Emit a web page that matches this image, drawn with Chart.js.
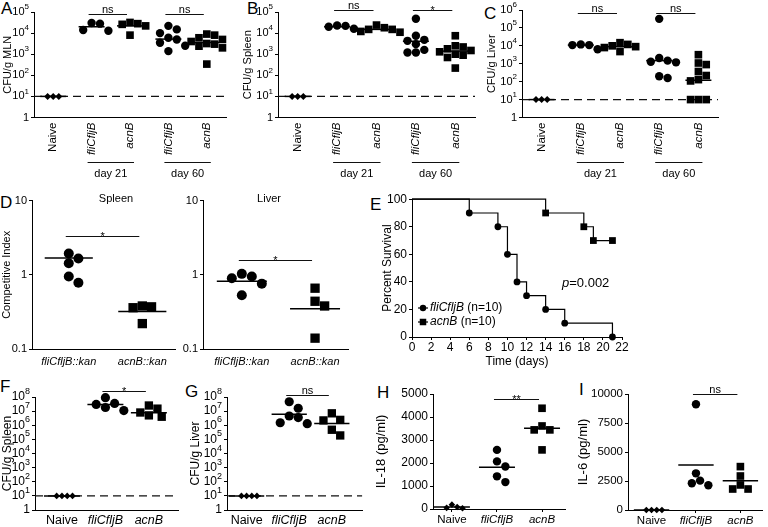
<!DOCTYPE html>
<html>
<head>
<meta charset="utf-8">
<script src="https://cdn.jsdelivr.net/npm/chart.js@4.4.1/dist/chart.umd.min.js"></script>
<style>
  body { margin: 0; width: 768px; height: 527px; position: relative; overflow: hidden; background: #fff;
         font-family: "Liberation Sans", Arial, sans-serif; color: #000; }
  canvas { position: absolute; }
  .letter { position: absolute; font-size: 17px; line-height: 17px; color: #000; }
</style>
</head>
<body>
<div class="letter" style="left:1px;top:0px">A</div>
<div class="letter" style="left:247px;top:0px">B</div>
<div class="letter" style="left:484px;top:5px">C</div>
<div class="letter" style="left:0px;top:194px">D</div>
<div class="letter" style="left:370px;top:196px">E</div>
<div class="letter" style="left:0px;top:378px">F</div>
<div class="letter" style="left:185px;top:383px">G</div>
<div class="letter" style="left:377px;top:384px">H</div>
<div class="letter" style="left:579px;top:381px">I</div>
<script>
const FONT = '"Liberation Sans", Arial, sans-serif';
Chart.defaults.font.family = FONT;
Chart.defaults.font.size = 11;
Chart.defaults.color = '#000';

// ---------- data ----------
const catsDays = ['Naive', 'fliCfljB', 'acnB', 'fliCfljB', 'acnB'];
const catsThree = ['Naive', 'fliCfljB', 'acnB'];
const catsKan = ['fliCfljB::kan', 'acnB::kan'];
const dayBrackets = [[2, 3, 'day 21'], [4, 5, 'day 60']];

const logTicks5 = [1, 10, 100, 1000, 10000, 100000];
const logTicks6 = [1, 10, 100, 1000, 10000, 100000, 1000000];
const logTicks8 = [1, 10, 100, 1000, 10000, 100000, 1000000, 10000000, 100000000];
const ciTicks = [0.1, 1, 10];

// A: MLN
const mlnNaive = [10, 10, 10];
const mlnFliD21 = [3.0e4, 2.8e4, 1.4e4, 1.3e4];
const mlnAcnD21 = [3.2e4, 2.8e4, 2.6e4, 2.2e4, 8e3];
const mlnFliD60 = [2.2e4, 1.5e4, 1.0e4, 6e3, 5e3, 3.5e3, 2.5e3, 1.4e3];
const mlnAcnD60 = [9e3, 8e3, 6e3, 5e3, 4e3, 3.2e3, 3e3, 2.4e3, 2e3, 3.4e2];
const mlnMid = [10, 2.0e4, 2.2e4, 5.2e3, 3.6e3];
const mlnSig = [[2, 3, 'ns'], [4, 5, 'ns']];

// B: spleen
const splNaive = [10, 10, 10];
const splFliD21 = [2.3e4, 2.0e4, 1.6e4, 2.2e4];
const splAcnD21 = [2.4e4, 1.8e4, 1.5e4, 1.5e4, 1.2e4, 1.1e4];
const splFliD60 = [4.8e4, 7.5e3, 4.8e3, 4.3e3, 3.0e3, 1.6e3, 1.2e3, 1.2e3];
const splAcnD60 = [7.5e3, 2.5e3, 2.2e3, 1.8e3, 1.5e3, 1.3e3, 1.0e3, 9e2, 7e2, 2.2e2];
const splMid = [10, 2.0e4, 1.5e4, 4.1e3, 1.4e3];
const splSig = [[2, 3, 'ns'], [4, 5, '*']];

// C: liver
const livNaive = [10, 10, 10];
const livFliD21 = [1.2e4, 1.1e4, 1.1e4, 6.5e3];
const livAcnD21 = [1.5e4, 1.2e4, 1.0e4, 9e3, 8e3, 4.8e3];
const livFliD60 = [3.2e5, 2.1e3, 1.5e3, 1.3e3, 1.2e3, 2.0e2, 1.6e2];
const livAcnD60 = [3.2e3, 1.1e3, 9e2, 3.7e2, 2.2e2, 1.3e2, 1.1e2, 10, 10, 10];
const livMid = [10, 1.1e4, 9e3, 1.5e3, 1.2e2];
const livSig = [[2, 3, 'ns'], [4, 5, 'ns']];

// D: competitive index
const ciSpleenFli = [1.94, 1.66, 1.43, 0.95, 0.78];
const ciSpleenAcn = [0.37, 0.36, 0.38, 0.22];
const ciSpleenMid = [1.68, 0.32];
const ciLiverFli = [1.03, 0.95, 0.9, 0.76, 0.53];
const ciLiverAcn = [0.66, 0.44, 0.38, 0.14];
const ciLiverMid = [0.82, 0.35];
const ciSig = [[1, 2, '*']];

// E: survival
const survGroups = ['fliCfljB', 'acnB'];
const survN = [10, 10];
const survDaysFli = [0, 6, 9, 10, 11, 12, 14, 16, 21];
const survPctFli = [100, 90, 80, 60, 40, 30, 20, 10, 0];
const survDaysAcn = [0, 14, 18, 19, 21];
const survPctAcn = [100, 90, 80, 70, 70];
const survTicksX = [0, 2, 4, 6, 8, 10, 12, 14, 16, 18, 20, 22];
const survTicksY = [0, 20, 40, 60, 80, 100];
const survP = '0.002';

// F: spleen, G: liver (acute)
const fNaive = [10, 10, 10, 10];
const fFli = [9e7, 3.5e7, 3e7, 1.8e7, 1.1e7];
const fAcn = [2.5e7, 1.5e7, 8e6, 5e6, 4e6];
const fMid = [10, 3e7, 7.7e6];
const fSig = [[2, 3, '*']];
const gNaive = [10, 10, 10, 10];
const gFli = [4.6e7, 1.6e7, 4.5e6, 3.5e6, 1.5e6, 1.3e6];
const gAcn = [7e6, 2.4e6, 2.2e6, 4.8e5, 1.9e5];
const gMid = [10, 5.9e6, 1.35e6];
const gSig = [[2, 3, 'ns']];

// H: IL-18, I: IL-6
const il18Ticks = [0, 1000, 2000, 3000, 4000, 5000];
const il18Naive = [50, 90, 190, 30];
const il18Fli = [2570, 2070, 1850, 1420, 1170];
const il18Acn = [4380, 3610, 3440, 3440, 2570];
const il18Mid = [90, 1820, 3510];
const il18Sig = [[2, 3, '**']];
const il6Ticks = [0, 2500, 5000, 7500, 10000];
const il6Naive = [0, 0, 0, 0];
const il6Fli = [9110, 3160, 2530, 2300, 2130];
const il6Acn = [3740, 2930, 2160, 1810, 1810];
const il6Mid = [0, 3880, 2530];
const il6Sig = [[2, 3, 'ns']];

// ---------- helpers ----------
function addCanvas(box) {
  const c = document.createElement('canvas');
  c.width = box[2]; c.height = box[3];
  c.style.left = box[0] + 'px'; c.style.top = box[1] + 'px';
  c.style.width = box[2] + 'px'; c.style.height = box[3] + 'px';
  document.body.appendChild(c);
  return c;
}

// simple beeswarm: spread overlapping points sideways
function swarm(vals, yPix, diam) {
  const pts = vals.map(v => ({ v: v, y: yPix(v), dx: 0 }));
  const order = pts.slice().sort((a, b) => a.y - b.y);
  const placed = [];
  const step = diam / 2;
  order.forEach(p => {
    for (let k = 0; k < 60; k++) {
      const off = (k % 2 ? 1 : -1) * Math.ceil(k / 2) * step;
      if (placed.every(q => Math.hypot(q.dx - off, q.y - p.y) >= diam - 0.01)) { p.dx = off; break; }
    }
    placed.push(p);
  });
  return pts;
}

function annotPlugin(o) {
  return {
    id: 'annot',
    afterDraw(chart) {
      const ctx = chart.ctx, xs = chart.scales.x, ys = chart.scales.y, a = chart.chartArea;
      ctx.save();
      ctx.fillStyle = '#000';
      ctx.strokeStyle = '#111';
      ctx.lineWidth = 1.2;
      if (o.pow) {
        const fs = o.yFont || 11, es = Math.round(fs * 0.75);
        ys.ticks.forEach(tk => {
          const y = ys.getPixelForValue(tk.value);
          const x = ys.right - 5;
          ctx.textAlign = 'right';
          ctx.textBaseline = 'middle';
          if (tk.value === 1) {
            ctx.font = fs + 'px ' + FONT;
            ctx.fillText('1', x, y);
            return;
          }
          const e = String(Math.round(Math.log10(tk.value)));
          ctx.font = es + 'px ' + FONT;
          const ew = ctx.measureText(e).width;
          ctx.fillText(e, x, y - fs * 0.45);
          ctx.font = fs + 'px ' + FONT;
          ctx.fillText('10', x - ew, y);
        });
      }
      (o.sig || []).forEach(s => {
        const x1 = xs.getPixelForValue(s[0]) - 3, x2 = xs.getPixelForValue(s[1]) - 3;
        const y = Math.round(ys.getPixelForValue(o.sigLevel)) + 0.5;
        ctx.beginPath(); ctx.moveTo(x1, y); ctx.lineTo(x2, y); ctx.stroke();
        ctx.font = '11px ' + FONT;
        ctx.textAlign = 'center';
        ctx.textBaseline = 'alphabetic';
        ctx.fillText(s[2], (x1 + x2) / 2, s[2].indexOf('*') >= 0 ? y + 3 : y - 2);
      });
      (o.brackets || []).forEach(s => {
        const x1 = xs.getPixelForValue(s[0]) - 4, x2 = xs.getPixelForValue(s[1]) + 4;
        const y = Math.round(a.bottom + 44) + 0.5;
        ctx.beginPath(); ctx.moveTo(x1, y); ctx.lineTo(x2, y); ctx.stroke();
        ctx.font = '11px ' + FONT;
        ctx.textAlign = 'center';
        ctx.textBaseline = 'alphabetic';
        ctx.fillText(s[2], (x1 + x2) / 2, y + 14);
      });
      if (o.heading) {
        ctx.font = '11px ' + FONT;
        ctx.textAlign = 'center';
        ctx.textBaseline = 'middle';
        ctx.fillText(o.heading, o.headingX - o.box[0], 199 - o.box[1]);
      }
      ctx.restore();
    }
  };
}

function dotPanel(o) {
  const [bx, by, bw, bh] = o.box;
  const [l, t, r, b] = o.plot;
  const lg = Math.log10;
  const yPix = o.yType === 'log'
    ? v => b - (lg(v) - lg(o.yMin)) / (lg(o.yMax) - lg(o.yMin)) * (b - t)
    : v => b - (v - o.yMin) / (o.yMax - o.yMin) * (b - t);
  const ppu = (r - l) / (o.xMax - o.xMin);
  const datasets = [];
  o.groups.forEach((vals, i) => {
    const shape = o.shapes[i];
    const rad = o.size[shape];
    const diam = shape === 'rect' ? rad * 1.45 : (shape === 'rectRot' ? rad * 1.6 : rad * 2);
    const pts = swarm(vals, yPix, diam).map(p => ({ x: i + 1 + p.dx / ppu, y: p.v }));
    datasets.push({
      data: pts, pointStyle: shape, pointRadius: rad, pointHoverRadius: rad,
      pointBackgroundColor: '#000', pointBorderWidth: 0, borderColor: '#000', clip: false
    });
  });
  o.mids.forEach((m, i) => {
    const hw = o.midHalf / ppu;
    datasets.push({
      data: [{ x: i + 1 - hw, y: m }, { x: i + 1 + hw, y: m }], showLine: true,
      pointRadius: 0, borderColor: '#000', borderWidth: 1.5, clip: false
    });
  });
  if (o.dashed) {
    datasets.push({
      data: [{ x: o.xMin, y: o.dashed }, { x: o.xMax, y: o.dashed }], showLine: true,
      pointRadius: 0, borderColor: '#111', borderWidth: 1.1, borderDash: [8, 5], clip: false
    });
  }
  const titleSize = o.titleFont || 11;
  const yFont = o.yFont || 11;
  const xFont = o.xFont || 11;
  new Chart(addCanvas(o.box), {
    type: 'scatter',
    data: { datasets: datasets },
    options: {
      responsive: false,
      animation: false,
      events: [],
      layout: { padding: { left: 0, bottom: 0, top: t - by, right: bx + bw - r } },
      plugins: { legend: { display: false }, tooltip: { enabled: false } },
      scales: {
        x: {
          type: 'linear', min: o.xMin, max: o.xMax,
          afterBuildTicks: s => { s.ticks = o.cats.map((c, i) => ({ value: i + 1 })); },
          afterFit: s => { s.height = by + bh - b; },
          ticks: {
            autoSkip: false,
            maxRotation: o.rotate ? 90 : 0, minRotation: o.rotate ? 90 : 0,
            padding: o.xPad,
            callback: v => o.cats[Math.round(v) - 1],
            font: c => ({ size: xFont, style: o.italic[c.index] ? 'italic' : 'normal' })
          },
          grid: { display: o.xTickLen > 0, drawOnChartArea: false, drawTicks: o.xTickLen > 0, tickLength: o.xTickLen, color: '#000' },
          border: { display: true, color: '#000', width: 1 }
        },
        y: {
          type: o.yType === 'log' ? 'logarithmic' : 'linear',
          min: o.yMin, max: o.yMax,
          afterBuildTicks: s => { s.ticks = o.yTicks.map(v => ({ value: v })); },
          afterFit: s => { s.width = l - bx; },
          ticks: { display: !o.pow, padding: 2, font: { size: yFont }, callback: v => String(v) },
          grid: { display: true, drawOnChartArea: false, drawTicks: true, tickLength: 3, color: '#000' },
          border: { display: true, color: '#000', width: 1 },
          title: {
            display: !!o.yTitle, text: o.yTitle, font: { size: titleSize },
            padding: { top: Math.max(0, o.titleX - bx - titleSize * 0.6), bottom: 0 }
          }
        }
      }
    },
    plugins: [annotPlugin(o)]
  });
}

const shapes5 = ['rectRot', 'circle', 'rect', 'circle', 'rect'];
const shapes3 = ['rectRot', 'circle', 'rect'];
const shapes2 = ['circle', 'rect'];

// ---------- row 1 ----------
const rowTop = {
  cats: catsDays, italic: [0, 1, 1, 1, 1], rotate: true, shapes: shapes5,
  size: { circle: 4.2, rect: 5.4, rectRot: 3.5 }, midHalf: 13,
  yType: 'log', yMin: 1, pow: true, xMin: 0.5, xMax: 5.5, dashed: 10,
  brackets: dayBrackets, xPad: 5, xTickLen: 0, xFont: 11.5, yFont: 11
};
dotPanel(Object.assign({}, rowTop, {
  box: [0, 0, 250, 185], plot: [34, 12, 226, 117.5], yMax: 1e5, yTicks: logTicks5,
  groups: [mlnNaive, mlnFliD21, mlnAcnD21, mlnFliD60, mlnAcnD60], mids: mlnMid,
  sig: mlnSig, sigLevel: 8e4, yTitle: 'CFU/g MLN', titleX: 8
}));
dotPanel(Object.assign({}, rowTop, {
  box: [240, 0, 245, 185], plot: [278, 12, 475, 117.5], yMax: 1e5, yTicks: logTicks5,
  groups: [splNaive, splFliD21, splAcnD21, splFliD60, splAcnD60], mids: splMid,
  sig: splSig, sigLevel: 1.2e5, yTitle: 'CFU/g Spleen', titleX: 248
}));
dotPanel(Object.assign({}, rowTop, {
  box: [484, 0, 284, 185], plot: [522, 10, 718, 117.5], yMax: 1e6, yTicks: logTicks6,
  groups: [livNaive, livFliD21, livAcnD21, livFliD60, livAcnD60], mids: livMid,
  sig: livSig, sigLevel: 7e5, yTitle: 'CFU/g Liver', titleX: 492
}));

// ---------- row 2: D ----------
const rowD = {
  cats: catsKan, italic: [1, 1], rotate: false, shapes: shapes2,
  size: { circle: 5, rect: 6.6 }, midHalf: 25,
  yType: 'log', yMin: 0.1, yMax: 10, yTicks: ciTicks, pow: false,
  xPad: 6.4, xTickLen: 0, xFont: 11, yFont: 11, sig: ciSig
};
dotPanel(Object.assign({}, rowD, {
  box: [0, 192, 182, 180], plot: [32, 198, 181, 349], xMin: 0.5, xMax: 2.45,
  groups: [ciSpleenFli, ciSpleenAcn], mids: ciSpleenMid, sigLevel: 3.3,
  yTitle: 'Competitive Index', titleX: 7, titleFont: 11,
  heading: 'Spleen', headingX: 116
}));
dotPanel(Object.assign({}, rowD, {
  box: [182, 192, 176, 180], plot: [203, 198, 348, 349], xMin: 0.47, xMax: 2.45,
  groups: [ciLiverFli, ciLiverAcn], mids: ciLiverMid, sigLevel: 1.58,
  heading: 'Liver', headingX: 269
}));

// ---------- row 2: E survival ----------
const survPlugin = {
  id: 'survAnnot',
  afterDraw(chart) {
    const ctx = chart.ctx, a = chart.chartArea;
    const shapes = ['circle', 'rect'], radii = [3.2, 4.6];
    ctx.save();
    ctx.fillStyle = '#000'; ctx.strokeStyle = '#000'; ctx.lineWidth = 1.2;
    ctx.textBaseline = 'middle'; ctx.textAlign = 'left';
    survGroups.forEach((g, k) => {
      const x = a.left + 11, y = a.bottom - 29 + k * 14;
      ctx.beginPath(); ctx.moveTo(x - 5, y); ctx.lineTo(x + 5, y); ctx.stroke();
      Chart.helpers.drawPoint(ctx, { pointStyle: shapes[k], radius: radii[k], borderWidth: 0, rotation: 0 }, x, y);
      ctx.font = 'italic 12px ' + FONT;
      ctx.fillText(g, x + 7, y);
      const w = ctx.measureText(g).width;
      ctx.font = '12px ' + FONT;
      ctx.fillText(' (n=' + survN[k] + ')', x + 7 + w, y);
    });
    ctx.font = 'italic 13px ' + FONT;
    const px = a.left + 150, py = a.bottom - 54;
    ctx.fillText('p', px, py);
    const pw = ctx.measureText('p').width;
    ctx.font = '13px ' + FONT;
    ctx.fillText('=' + survP, px + pw, py);
    ctx.restore();
  }
};

(function () {
  const box = [360, 190, 270, 180], plot = [412, 199, 622, 337];
  new Chart(addCanvas(box), {
    type: 'line',
    data: {
      datasets: [
        {
          data: survDaysFli.map((d, i) => ({ x: d, y: survPctFli[i] })),
          stepped: 'before', borderColor: '#000', borderWidth: 1.2, fill: false,
          pointStyle: 'circle', pointRadius: survDaysFli.map(d => d === 0 ? 0 : 3.4),
          pointBackgroundColor: '#000', pointBorderWidth: 0, clip: false
        },
        {
          data: survDaysAcn.map((d, i) => ({ x: d, y: survPctAcn[i] })),
          stepped: 'before', borderColor: '#000', borderWidth: 1.2, fill: false,
          pointStyle: 'rect', pointRadius: survDaysAcn.map(d => d === 0 ? 0 : 4.8),
          pointBackgroundColor: '#000', pointBorderWidth: 0, clip: false
        }
      ]
    },
    options: {
      responsive: false, animation: false, events: [],
      layout: { padding: { left: 0, bottom: 0, top: plot[1] - box[1], right: box[0] + box[2] - plot[2] } },
      plugins: { legend: { display: false }, tooltip: { enabled: false } },
      scales: {
        x: {
          type: 'linear', min: 0, max: 22,
          afterBuildTicks: s => { s.ticks = survTicksX.map(v => ({ value: v })); },
          afterFit: s => { s.height = box[1] + box[3] - plot[3]; },
          ticks: { padding: 0, font: { size: 12 }, maxRotation: 0 },
          grid: { drawOnChartArea: false, tickLength: 3, color: '#000' },
          border: { color: '#000' },
          title: { display: true, text: 'Time (days)', font: { size: 12 }, padding: { top: 0, bottom: 1.4 } }
        },
        y: {
          type: 'linear', min: 0, max: 100,
          afterBuildTicks: s => { s.ticks = survTicksY.map(v => ({ value: v })); },
          afterFit: s => { s.width = plot[0] - box[0]; },
          ticks: { padding: 2, font: { size: 12 } },
          grid: { drawOnChartArea: false, tickLength: 3, color: '#000' },
          border: { color: '#000' },
          title: { display: true, text: 'Percent Survival', font: { size: 12 }, padding: { top: 388 - box[0] - 7.2, bottom: 0 } }
        }
      }
    },
    plugins: [survPlugin]
  });
})();

// ---------- row 3 ----------
const rowLog = {
  cats: catsThree, italic: [0, 1, 1], rotate: false, shapes: shapes3,
  size: { circle: 4.6, rect: 5.9, rectRot: 3.3 }, midHalf: 18,
  yType: 'log', yMin: 1, yMax: 1e8, yTicks: logTicks8, pow: true, dashed: 10,
  xPad: 3.5, xTickLen: 0, xFont: 12.5, yFont: 12, titleFont: 12
};
dotPanel(Object.assign({}, rowLog, {
  box: [0, 380, 185, 147], plot: [35, 397, 178, 510], xMin: 0.38, xMax: 3.67,
  groups: [fNaive, fFli, fAcn], mids: fMid, sig: fSig, sigLevel: 2.8e8,
  yTitle: 'CFU/g Spleen', titleX: 7
}));
dotPanel(Object.assign({}, rowLog, {
  box: [188, 380, 180, 147], plot: [227, 397, 365, 510], xMin: 0.54, xMax: 3.71,
  groups: [gNaive, gFli, gAcn], mids: gMid, sig: gSig, sigLevel: 1.4e8,
  yTitle: 'CFU/g Liver', titleX: 193
}));
const rowLin = {
  cats: catsThree, italic: [0, 1, 1], rotate: false, shapes: shapes3,
  size: { circle: 4.2, rect: 5.4, rectRot: 3.3 }, midHalf: 18,
  yType: 'linear', pow: false, xPad: 0.5, xTickLen: 3, xFont: 11.5, yFont: 12, titleFont: 13
};
dotPanel(Object.assign({}, rowLin, {
  box: [365, 380, 210, 147], plot: [433, 394, 565, 509], xMin: 0.58, xMax: 3.51,
  yMin: 0, yMax: 5000, yTicks: il18Ticks,
  groups: [il18Naive, il18Fli, il18Acn], mids: il18Mid, sig: il18Sig, sigLevel: 4780,
  yTitle: 'IL-18 (pg/ml)', titleX: 381
}));
dotPanel(Object.assign({}, rowLin, {
  box: [576, 380, 192, 147], plot: [628, 394, 765, 510], xMin: 0.47, xMax: 3.5,
  yMin: 0, yMax: 10000, yTicks: il6Ticks,
  groups: [il6Naive, il6Fli, il6Acn], mids: il6Mid, sig: il6Sig, sigLevel: 10000,
  yTitle: 'IL-6 (pg/ml)', titleX: 583, yFont: 11.5
}));
</script>
</body>
</html>
